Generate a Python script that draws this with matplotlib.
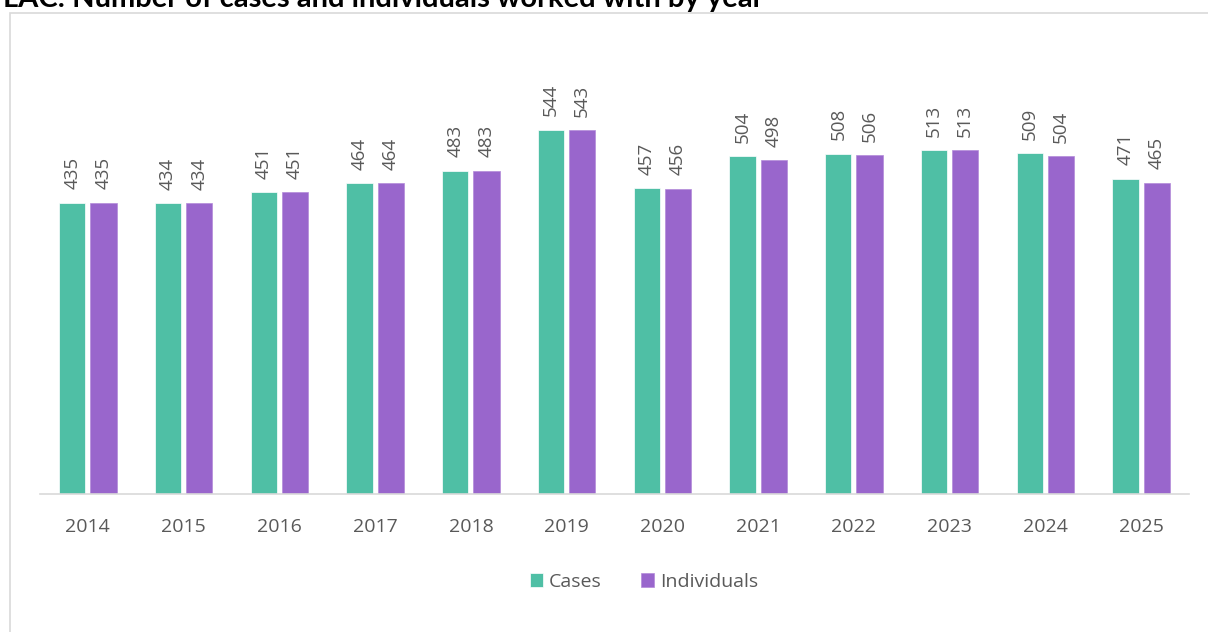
import numpy as np
import matplotlib.pyplot as plt
from matplotlib.patches import Rectangle

years = ['2014', '2015', '2016', '2017', '2018', '2019',
         '2020', '2021', '2022', '2023', '2024', '2025']
cases = [435, 434, 451, 464, 483, 544, 457, 504, 508, 513, 509, 471]
individuals = [435, 434, 451, 464, 483, 543, 456, 498, 506, 513, 504, 465]

green = '#4fbfa5'
purple = '#9966cc'
grey = '#595959'

plt.rcParams['font.family'] = ['Open Sans', 'DejaVu Sans']

fig = plt.figure(figsize=(12.08, 6.32), dpi=100)
W, H = 1208, 632

# chart frame (runs off the right/bottom edge)
fig.patches.append(Rectangle((10 / W, -0.1), 1.2, 1 - 13 / H + 0.1,
                             transform=fig.transFigure, fill=False,
                             edgecolor='#d9d9d9', linewidth=1.2))

fig.text(3 / W, 1 - 7 / H, 'LAC: Number of cases and individuals worked with by year',
         fontsize=21, fontweight='bold', color='black', va='baseline', ha='left',
         family=['Lato', 'DejaVu Sans'])

ax = fig.add_axes([40 / W, 1 - 494 / H, 1149 / W, 434 / H])
x = np.arange(len(years))
w = 0.272
off = 0.163
b1 = ax.bar(x - off, cases, w, color=green, edgecolor='white', linewidth=0.5, label='Cases')
b2 = ax.bar(x + off, individuals, w, color=purple, edgecolor='#b38ad9', linewidth=0.5, label='Individuals')

for bars, vals in ((b1, cases), (b2, individuals)):
    for rect, v in zip(bars, vals):
        ax.text(rect.get_x() + rect.get_width() / 2, v + 20, str(v),
                rotation=90, ha='center', va='bottom', fontsize=13.5, color=grey)

ax.set_xlim(-0.5, len(years) - 0.5)
ax.set_ylim(0, 648)
ax.set_xticks(x)
ax.set_xticklabels(years, fontsize=14, color=grey)
ax.tick_params(axis='x', length=0, pad=17)
ax.set_yticks([])
for s in ('top', 'right', 'left'):
    ax.spines[s].set_visible(False)
ax.spines['bottom'].set_color('#d9d9d9')
ax.spines['bottom'].set_linewidth(1.2)

fig.legend(handles=[b1, b2], labels=['Cases', 'Individuals'], loc='center',
           bbox_to_anchor=(644 / W, 1 - 582 / H), ncol=2, frameon=False,
           fontsize=14, handlelength=0.7, handleheight=0.7, handletextpad=0.3,
           columnspacing=2.0, labelcolor=grey)

fig.savefig('out.png', dpi=100)
